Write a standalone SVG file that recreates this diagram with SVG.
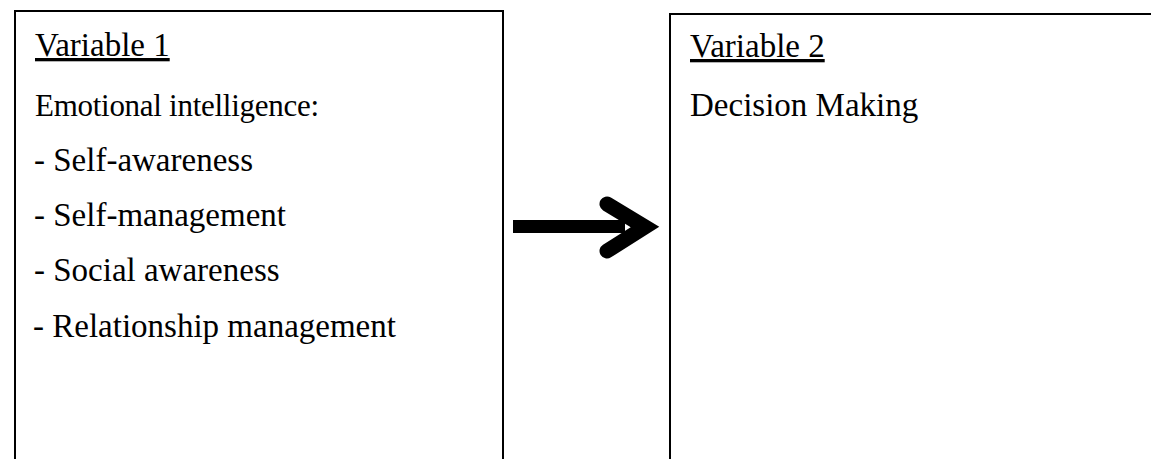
<svg xmlns="http://www.w3.org/2000/svg" width="1151" height="459" viewBox="0 0 1151 459">
<style>
.box{fill:none;stroke:#000;stroke-width:2}
.t{font-family:"Liberation Serif","Times New Roman",serif;font-size:33px;fill:#000}
.u{text-decoration:underline}
</style>
<rect width="1151" height="459" fill="#fff"/>
<g id="node-variable1">
<path class="box" d="M15 470 V11 H503 V470"/>
<text class="t u" x="35" y="56">Variable 1</text>
<text class="t" x="35" y="116" style="font-size:31px" textLength="284" lengthAdjust="spacing">Emotional intelligence:</text>
<text class="t" x="34" y="171">- Self-awareness</text>
<text class="t" x="34" y="226">- Self-management</text>
<text class="t" x="34" y="281">- Social awareness</text>
<text class="t" x="33" y="337">- Relationship management</text>
</g>
<g id="node-variable2">
<path class="box" d="M670 470 V14 H1160"/>
<text class="t u" x="690" y="57">Variable 2</text>
<text class="t" x="690" y="116">Decision Making</text>
</g>
<g id="connectors">
<rect x="513" y="220" width="112" height="13" fill="#000"/>
<polyline points="607,204 645,227 607,251" fill="none" stroke="#000" stroke-width="15" stroke-linecap="round" stroke-linejoin="miter"/>
</g>
</svg>
